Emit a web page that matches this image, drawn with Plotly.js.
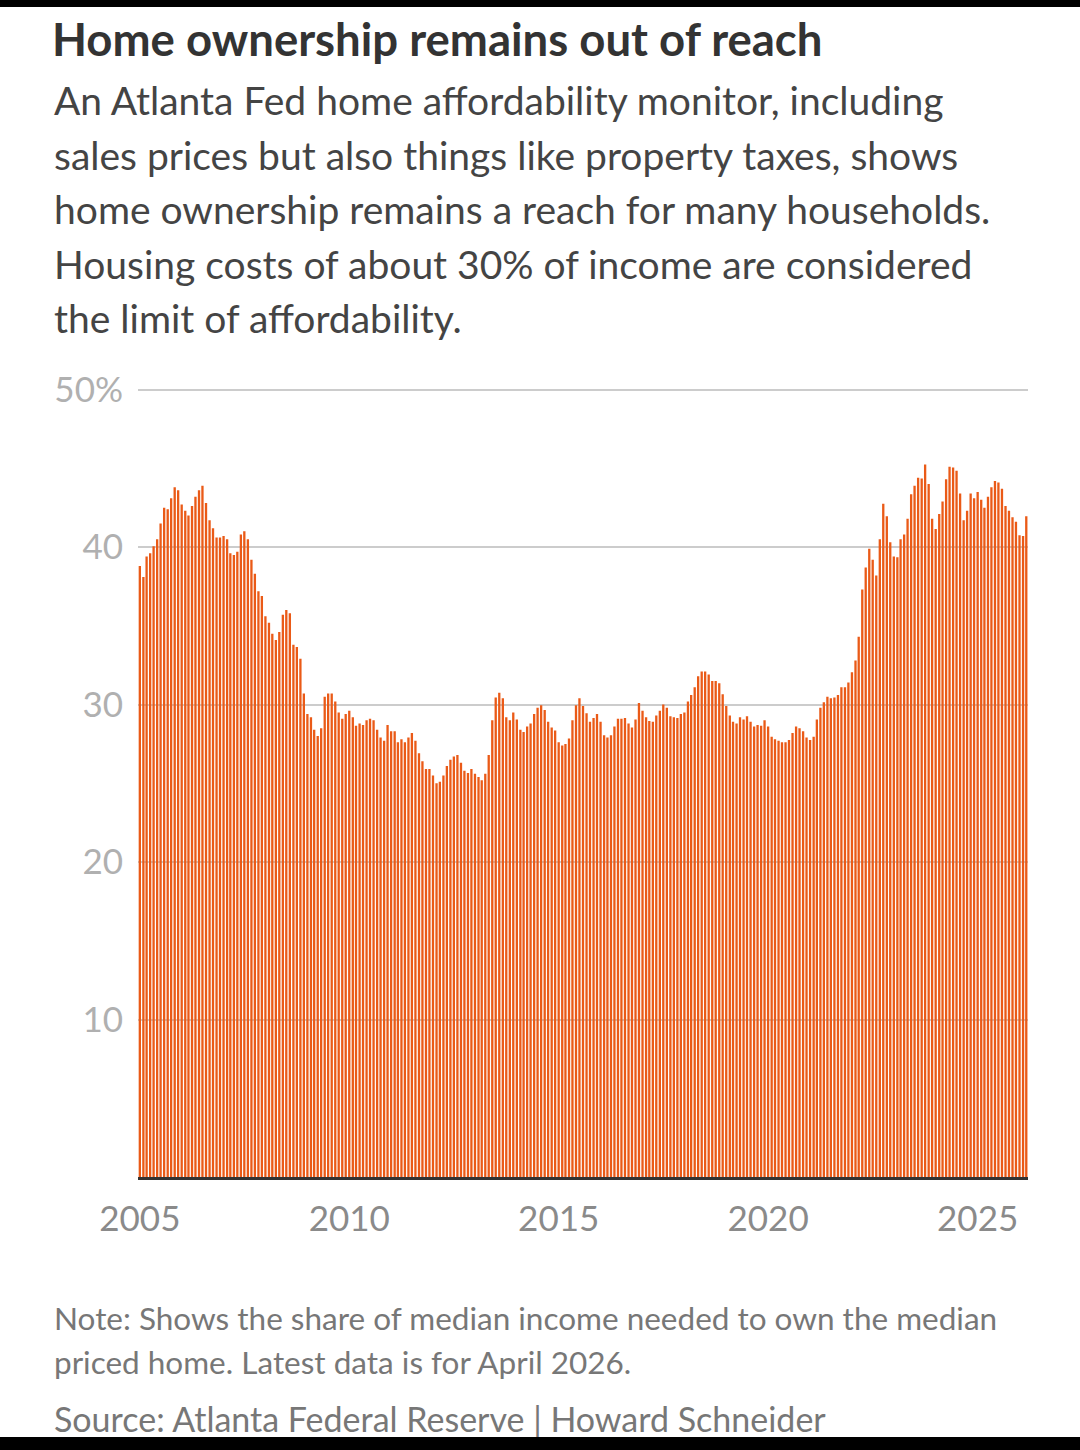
<!DOCTYPE html>
<html>
<head>
<meta charset="utf-8">
<script src="https://cdn.plot.ly/plotly-3.0.1.min.js"></script>
<style>
  html, body { margin: 0; padding: 0; background: #fff; }
  #wrap { position: relative; width: 1080px; height: 1450px; overflow: hidden; }
  #chart { position: absolute; left: 0; top: 0; width: 1080px; height: 1450px; }
  .band { position: absolute; left: 0; width: 1080px; background: #000; }
</style>
</head>
<body>
<div id="wrap">
  <div id="chart"></div>
  <div class="band" style="top:0;height:7px;"></div>
  <div class="band" style="top:1437px;height:13px;"></div>
</div>
<script>
// Monthly share of median income needed to own the median-priced home (%)
const startYear = 2005;
const startMonth = 1;
const values2005_2008 = [38.8, 38.1, 39.4, 39.6, 40.05, 40.5, 41.5, 42.5, 42.4, 43.1, 43.8, 43.6,
  42.7, 42.3, 42.0, 42.6, 43.2, 43.6, 43.9, 42.8, 41.7, 41.2, 40.6, 40.6,
  40.7, 40.5, 39.6, 39.5, 39.7, 40.8, 41.0, 40.5, 39.2, 38.3, 37.2, 36.9,
  35.6, 35.2, 34.5, 34.1, 34.6, 35.7, 36.0, 35.8, 33.8, 33.65, 32.9, 30.7];
const values2009_2012 = [29.4, 29.2, 28.4, 28.0, 28.5, 30.5, 30.7, 30.7, 30.2, 29.5, 29.1, 29.4,
  29.6, 29.2, 28.65, 28.8, 28.7, 29.0, 29.1, 29.0, 28.4, 27.9, 27.7, 28.7,
  28.3, 28.3, 27.6, 27.8, 27.6, 27.9, 28.2, 27.7, 26.9, 26.4, 25.9, 25.9,
  25.5, 25.0, 25.1, 25.5, 26.1, 26.5, 26.7, 26.8, 26.3, 25.8, 25.65, 25.9];
const values2013_2016 = [25.6, 25.4, 25.2, 25.6, 26.8, 29.0, 30.45, 30.75, 30.4, 29.2, 29.0, 29.5,
  29.05, 28.4, 28.25, 28.6, 28.8, 29.4, 29.8, 29.95, 29.65, 28.9, 28.55, 28.35,
  27.6, 27.4, 27.5, 27.85, 29.0, 29.95, 30.4, 29.9, 29.45, 28.9, 29.15, 29.4,
  28.9, 28.05, 27.9, 28.05, 28.6, 29.1, 29.1, 29.15, 28.8, 28.55, 29.05, 30.1];
const values2017_2020 = [29.6, 29.2, 28.95, 28.9, 29.3, 29.6, 30.0, 29.8, 29.25, 29.2, 29.15, 29.4,
  29.5, 30.2, 30.6, 31.1, 31.8, 32.1, 32.1, 31.9, 31.5, 31.5, 31.35, 30.65,
  29.9, 29.3, 28.9, 28.8, 29.2, 29.05, 29.25, 28.9, 28.6, 28.7, 28.65, 29.0,
  28.6, 27.95, 27.8, 27.7, 27.6, 27.6, 27.75, 28.2, 28.6, 28.5, 28.3, 27.9];
const values2021_2026 = [27.75, 27.95, 29.05, 29.8, 30.15, 30.5, 30.4, 30.45, 30.6, 31.1, 31.1, 31.4,
  32.05, 32.8, 34.3, 37.3, 38.7, 39.9, 39.2, 38.2, 40.5, 42.75, 41.95, 40.3,
  39.4, 39.35, 40.5, 40.8, 41.8, 43.35, 43.9, 44.4, 44.35, 45.25, 44.0, 41.8,
  41.15, 42.1, 42.9, 44.3, 45.1, 45.05, 44.85, 43.4, 41.7, 42.3, 43.4, 43.1,
  43.5, 43.0, 42.5, 43.2, 43.8, 44.2, 44.1, 43.7, 42.6, 42.3, 41.9, 41.6,
  40.75, 40.7, 41.95];
const values = [].concat(values2005_2008, values2009_2012, values2013_2016, values2017_2020, values2021_2026);

const tickYears = ['2005', '2010', '2015', '2020', '2025'];
const yTickVals = [10, 20, 30, 40, 50];
const yTickText = ['10', '20', '30', '40', '50%'];

const title = 'Home ownership remains out of reach';
const subtitleLines = [
  'An Atlanta Fed home affordability monitor, including',
  'sales prices but also things like property taxes, shows',
  'home ownership remains a reach for many households.',
  'Housing costs of about 30% of income are considered',
  'the limit of affordability.'
];
const noteLines = [
  'Note: Shows the share of median income needed to own the median',
  'priced home. Latest data is for April 2026.'
];
const sourceLine = 'Source: Atlanta Federal Reserve | Howard Schneider';

// month labels (x categories)
const months = values.map((_, i) => {
  const m0 = startMonth - 1 + i;
  const y = startYear + Math.floor(m0 / 12);
  const m = (m0 % 12) + 1;
  return y + '-' + String(m).padStart(2, '0') + '-01';
});

const FONT = 'Lato, "Noto Sans", sans-serif';
const W = 1080, H = 1450;
const L = 138, R = 52, T = 388, B = 273;
const plotW = W - L - R, plotH = H - T - B;
const px2x = x => (x - L) / plotW;
const px2y = y => (H - B - y) / plotH;

const annotations = [];
const subBase = [100, 155, 209, 264, 318];
subtitleLines.forEach((t, i) => annotations.push({
  text: t, xref: 'paper', yref: 'paper', x: px2x(52), y: px2y(subBase[i]),
  xanchor: 'left', yanchor: 'middle', showarrow: false, align: 'left',
  font: { family: FONT, size: 39, color: '#444444' }
}));
const noteBase = [1318, 1362];
noteLines.forEach((t, i) => annotations.push({
  text: t, xref: 'paper', yref: 'paper', x: px2x(52), y: px2y(noteBase[i]),
  xanchor: 'left', yanchor: 'middle', showarrow: false, align: 'left',
  font: { family: FONT, size: 31.5, color: '#777777' }
}));
annotations.push({
  text: sourceLine, xref: 'paper', yref: 'paper', x: px2x(52), y: px2y(1418),
  xanchor: 'left', yanchor: 'middle', showarrow: false, align: 'left',
  font: { family: FONT, size: 34, color: '#777777' }
});

const trace = {
  type: 'bar',
  x: months,
  y: values,
  marker: { color: '#ea5a17', line: { width: 0 } },
  hoverinfo: 'x+y'
};

const layout = {
  width: W, height: H,
  margin: { l: L, r: R, t: T, b: B, pad: 0 },
  paper_bgcolor: '#ffffff', plot_bgcolor: '#ffffff',
  showlegend: false,
  bargap: 0.28,
  title: {
    text: '<b>' + title + '</b>',
    font: { family: FONT, size: 45.5, color: '#333333' },
    xref: 'container', yref: 'container',
    x: 52 / W, xanchor: 'left',
    y: 1 - 40 / H, yanchor: 'middle'
  },
  xaxis: {
    type: 'date',
    range: ['2004-12-16', '2026-03-16'],
    tickmode: 'array',
    tickvals: tickYears.map(y => y + '-01-01'),
    ticktext: tickYears,
    showgrid: false,
    zeroline: false,
    showline: true, linecolor: '#333333', linewidth: 3,
    ticks: '',
    ticklabelstandoff: 9,
    tickfont: { family: FONT, size: 35, color: '#8a8a8a' },
    fixedrange: true
  },
  yaxis: {
    range: [0, 50.1],
    tickmode: 'array',
    tickvals: yTickVals,
    ticktext: yTickText,
    showgrid: true, gridcolor: '#cccccc', gridwidth: 2,
    zeroline: false, showline: false,
    ticks: '',
    ticklabelstandoff: 14,
    tickfont: { family: FONT, size: 35, color: '#b0b0b0' },
    fixedrange: true
  },
  annotations: annotations
};

Plotly.newPlot('chart', [trace], layout, { displayModeBar: false, staticPlot: true });
</script>
</body>
</html>
